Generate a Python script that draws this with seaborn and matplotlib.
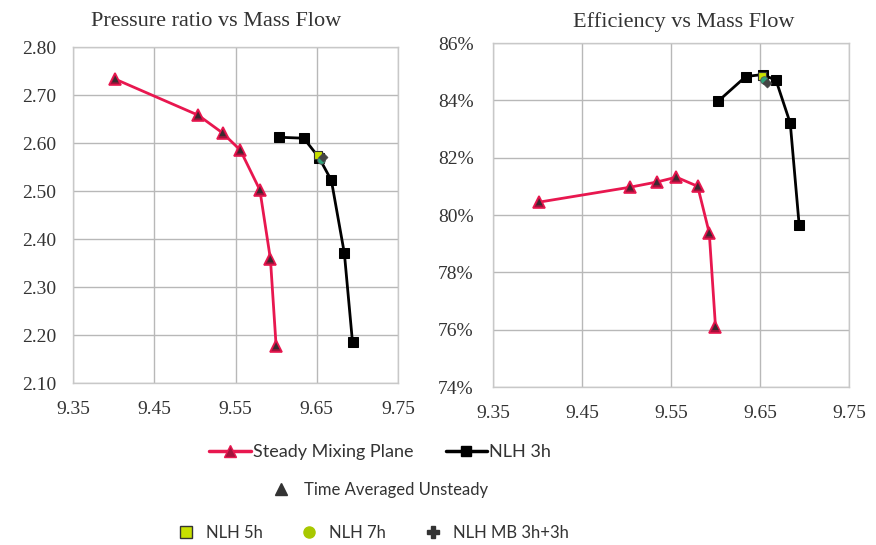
import matplotlib
matplotlib.use("Agg")
import matplotlib.pyplot as plt
import seaborn as sns
import pandas as pd
from matplotlib.ticker import FuncFormatter
from matplotlib.lines import Line2D

# ---------------- data ----------------
steady_flow = [9.402, 9.504, 9.534, 9.556, 9.580, 9.593, 9.600]
steady_pr = [2.733, 2.658, 2.621, 2.585, 2.502, 2.358, 2.177]
steady_eff = [80.45, 80.97, 81.15, 81.32, 81.00, 79.37, 76.10]

nlh3_flow = [9.603, 9.634, 9.653, 9.668, 9.684, 9.694]
nlh3_pr = [2.612, 2.610, 2.569, 2.522, 2.370, 2.185]
nlh3_eff = [83.97, 84.83, 84.90, 84.70, 83.20, 79.65]

tau_flow = steady_flow
tau_pr = steady_pr
tau_eff = steady_eff

nlh5_flow = [9.652]
nlh5_pr = [2.575]
nlh5_eff = [84.85]
nlh7_flow = [9.655]
nlh7_pr = [2.565]
nlh7_eff = [84.70]
mb_flow = [9.658]
mb_pr = [2.571]
mb_eff = [84.62]

x_ticks = [9.35, 9.45, 9.55, 9.65, 9.75]
pr_ticks = [2.10, 2.20, 2.30, 2.40, 2.50, 2.60, 2.70, 2.80]
eff_ticks = [74, 76, 78, 80, 82, 84, 86]

title_left = "Pressure ratio vs Mass Flow"
title_right = "Efficiency vs Mass Flow"

RED = "#E8174F"
RED_FACE = "#A3123C"
BLACK = "#000000"
YEL = "#C8E000"

sns.set_theme(style="white")
plt.rcParams["font.family"] = ["Liberation Serif", "DejaVu Serif"]

fig = plt.figure(figsize=(8.76, 5.45), dpi=100)
axL = fig.add_axes([73 / 876, 1 - 383 / 545, (398 - 73) / 876, (383 - 47) / 545])
axR = fig.add_axes([493 / 876, 1 - 387 / 545, (849 - 493) / 876, (387 - 43) / 545])

steady_df = pd.DataFrame({"flow": steady_flow, "pr": steady_pr, "eff": steady_eff})
nlh3_df = pd.DataFrame({"flow": nlh3_flow, "pr": nlh3_pr, "eff": nlh3_eff})

for ax, ycol, taus, n5, n7, mb in [
    (axL, "pr", tau_pr, nlh5_pr, nlh7_pr, mb_pr),
    (axR, "eff", tau_eff, nlh5_eff, nlh7_eff, mb_eff),
]:
    sns.lineplot(data=steady_df, x="flow", y=ycol, sort=False, ax=ax, color=RED,
                 lw=2.0, marker="^", markersize=8, markerfacecolor=RED_FACE,
                 markeredgecolor=RED, markeredgewidth=1.2, zorder=3)
    sns.lineplot(data=nlh3_df, x="flow", y=ycol, sort=False, ax=ax, color=BLACK,
                 lw=2.0, marker="s", markersize=7, markerfacecolor=BLACK,
                 markeredgecolor=BLACK, zorder=3)
    sns.scatterplot(x=tau_flow, y=taus, ax=ax, marker="^", s=22, color="#3a2a30",
                    edgecolor="none", zorder=4)
    sns.scatterplot(x=nlh5_flow, y=n5, ax=ax, marker="s", s=30, color=YEL,
                    edgecolor="#333333", linewidth=0.8, zorder=5)
    sns.scatterplot(x=nlh7_flow, y=n7, ax=ax, marker="o", s=30, color="#2fa37a",
                    edgecolor="#555555", linewidth=0.6, zorder=5)
    sns.scatterplot(x=mb_flow, y=mb, ax=ax, marker="D", s=22, color="#444444",
                    edgecolor="#444444", zorder=6)

    ax.set_xlim(9.35, 9.75)
    ax.set_xticks(x_ticks)
    ax.xaxis.set_major_formatter(FuncFormatter(lambda v, p: f"{v:.2f}"))
    ax.set_xlabel("")
    ax.set_ylabel("")
    ax.grid(True, color="#b8b8b8", lw=1.0)
    ax.set_axisbelow(True)
    for s in ax.spines.values():
        s.set_color("#c8c8c8")
        s.set_linewidth(1.0)
    ax.tick_params(axis="both", labelsize=14, colors="#333333", length=0)

axL.tick_params(axis="y", pad=12)
axL.tick_params(axis="x", pad=13)
axR.tick_params(axis="y", pad=14)
axR.tick_params(axis="x", pad=13)

axL.set_ylim(2.10, 2.80)
axL.set_yticks(pr_ticks)
axL.yaxis.set_major_formatter(FuncFormatter(lambda v, p: f"{v:.2f}"))
axR.set_ylim(74, 86)
axR.set_yticks(eff_ticks)
axR.yaxis.set_major_formatter(FuncFormatter(lambda v, p: f"{v:.0f}%"))

fig.text(216 / 876, 1 - 22 / 545, title_left, ha="center", va="center",
         fontsize=16, color="#333333")
fig.text(684 / 876, 1 - 22 / 545, title_right, ha="center", va="center",
         fontsize=16, color="#333333")

# ---------------- legends ----------------
legfont = {"family": ["Lato", "DejaVu Sans"], "size": 13}
h1 = [
    Line2D([], [], color=RED, lw=2.5, marker="^", markersize=8,
           markerfacecolor=RED_FACE, markeredgecolor=RED),
    Line2D([], [], color=BLACK, lw=2.5, marker="s", markersize=7,
           markerfacecolor=BLACK),
]
leg1 = fig.legend(h1, ["Steady Mixing Plane", "NLH 3h"], loc="center",
                  bbox_to_anchor=(380 / 876, 1 - 452 / 545), ncol=2, frameon=False,
                  prop=legfont, handlelength=2.3, handletextpad=0.1, columnspacing=1.8)
for t in leg1.get_texts():
    t.set_color("#333333")

legfont2 = {"family": ["Lato", "DejaVu Sans"], "size": 12}
h2 = [Line2D([], [], ls="none", marker="^", markersize=8, color="#333333")]
leg2 = fig.legend(h2, ["Time Averaged Unsteady"], loc="center",
                  bbox_to_anchor=(376 / 876, 1 - 490 / 545), frameon=False,
                  prop=legfont2, handletextpad=0.4)
for t in leg2.get_texts():
    t.set_color("#333333")

h3 = [
    Line2D([], [], ls="none", marker="s", markersize=8, markerfacecolor=YEL,
           markeredgecolor="#333333"),
    Line2D([], [], ls="none", marker="o", markersize=8, markerfacecolor="#a8c800",
           markeredgecolor="#a8c800"),
    Line2D([], [], ls="none", marker="P", markersize=8, color="#333333"),
]
leg3 = fig.legend(h3, ["NLH 5h", "NLH 7h", "NLH MB 3h+3h"], loc="center",
                  bbox_to_anchor=(372 / 876, 1 - 533 / 545), ncol=3, frameon=False,
                  prop=legfont2, handlelength=1.2, handletextpad=0.6, columnspacing=2.2)
for t in leg3.get_texts():
    t.set_color("#333333")

fig.savefig("out.png", dpi=100)
